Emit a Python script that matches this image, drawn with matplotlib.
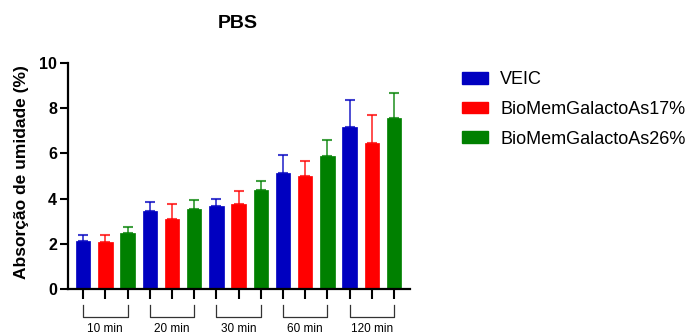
import matplotlib
matplotlib.use("Agg")
import matplotlib.pyplot as plt
import matplotlib.transforms as mtransforms
from matplotlib.patches import Patch
import numpy as np

plt.rcParams['font.family'] = ['Liberation Sans', 'DejaVu Sans']

# data
groups = ["10 min", "20 min", "30 min", "60 min", "120 min"]
series = ["VEIC", "BioMemGalactoAs17%", "BioMemGalactoAs26%"]
veic_mean = [2.12, 3.44, 3.68, 5.15, 7.15]
veic_sd = [0.25, 0.40, 0.31, 0.79, 1.20]
bio17_mean = [2.07, 3.09, 3.76, 4.99, 6.47]
bio17_sd = [0.33, 0.65, 0.59, 0.67, 1.24]
bio26_mean = [2.47, 3.53, 4.38, 5.90, 7.57]
bio26_sd = [0.29, 0.40, 0.38, 0.69, 1.11]

colors = ["#0000C0", "#FF0000", "#008000"]
means = [veic_mean, bio17_mean, bio26_mean]
sds = [veic_sd, bio17_sd, bio26_sd]

fig = plt.figure(figsize=(6.92, 3.34), dpi=100)
ax = fig.add_axes([68 / 692, 1 - 289 / 334, (410 - 68) / 692, (289 - 63) / 334])

n_series = len(series)
for i, (m, s, c) in enumerate(zip(means, sds, colors)):
    x = np.arange(len(groups)) * n_series + i
    ax.bar(x, m, width=0.65, color=c, edgecolor=c, linewidth=0.5, zorder=2)
    ax.errorbar(x, m, yerr=[np.zeros(len(s)), s], fmt='none', ecolor=c,
                alpha=0.75, elinewidth=1.3, capsize=3.5, capthick=1.5, zorder=1)

ax.set_ylim(0, 10)
ax.set_xlim(-0.68, 14.72)
ax.set_yticks([0, 2, 4, 6, 8, 10])
for lab in ax.get_yticklabels():
    lab.set_fontweight('bold')
ax.tick_params(axis='y', labelsize=11.5, length=6, width=1.5, pad=2)
ax.set_xticks(np.arange(len(groups) * n_series))
ax.set_xticklabels([])
ax.tick_params(axis='x', length=7, width=1.5)
for side in ['top', 'right']:
    ax.spines[side].set_visible(False)
for side in ['left', 'bottom']:
    ax.spines[side].set_linewidth(1.6)

# group brackets and labels under the axis
trans = mtransforms.blended_transform_factory(ax.transData, ax.transAxes)
for g, name in enumerate(groups):
    x0 = g * n_series
    x1 = x0 + n_series - 1
    ax.plot([x0, x0, x1, x1], [-0.071, -0.124, -0.124, -0.071], color='#333333',
            linewidth=0.9, transform=trans, clip_on=False)
    ax.text((x0 + x1) / 2, -0.175, name, transform=trans, ha='center', va='center',
            fontsize=8.5)

fig.text(238 / 692, 1 - 24 / 334, "PBS", ha='center', va='center',
         fontsize=14, fontweight='bold')
fig.text(22 / 692, 1 - 172 / 334, "Absorção de umidade (%)", rotation=90,
         ha='center', va='center', fontsize=12.5, fontweight='bold')

handles = [Patch(facecolor=c, edgecolor=c) for c in colors]
fig.legend(handles, series, loc='upper left', bbox_to_anchor=(455 / 692, 1 - 64 / 334),
           frameon=False, fontsize=13, handlelength=1.4, handleheight=0.6,
           handletextpad=0.7, labelspacing=0.7, borderaxespad=0)

fig.savefig("out.png", dpi=100)
